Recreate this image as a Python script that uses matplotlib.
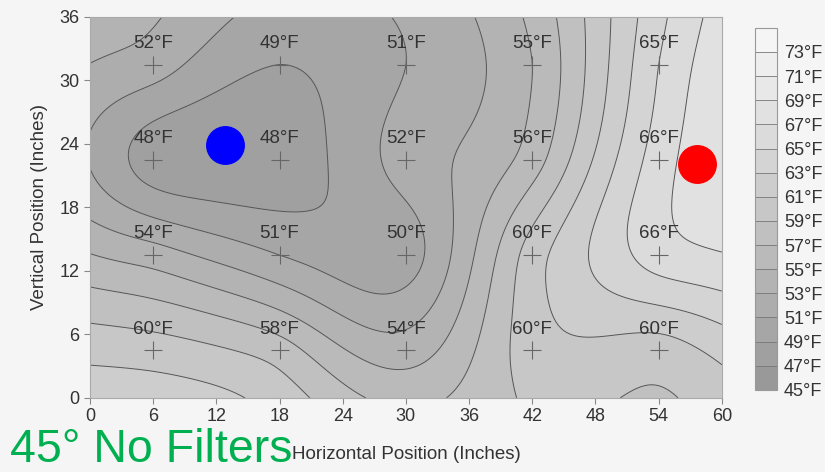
import numpy as np
import matplotlib.pyplot as plt
from matplotlib.colors import ListedColormap, BoundaryNorm

# Sensor grid (inches) and readings (deg F)
sensor_x = [6, 18, 30, 42, 54]
sensor_y = [4.5, 13.5, 22.5, 31.5]
temps = [
    [60, 58, 54, 60, 60],   # y = 4.5
    [54, 51, 50, 60, 66],   # y = 13.5
    [48, 48, 52, 56, 66],   # y = 22.5
    [52, 49, 51, 55, 65],   # y = 31.5
]
levels = list(range(45, 77, 2))
tick_vals = list(range(45, 75, 2))

# Fan / heater positions
cold_xy = (12.8, 23.9)
hot_xy = (57.6, 22.1)

# Thin-plate spline through the sensor readings
sx, sy = np.meshgrid(sensor_x, sensor_y)
px, py, pv = sx.ravel(), sy.ravel(), np.array(temps, float).ravel()


def tps_kernel(r):
    with np.errstate(divide='ignore', invalid='ignore'):
        k = r**2 * np.log(r)
    return np.nan_to_num(k)


n = len(pv)
d = np.hypot(px[:, None] - px[None, :], py[:, None] - py[None, :])
A = np.zeros((n + 3, n + 3))
A[:n, :n] = tps_kernel(d)
P = np.column_stack([np.ones(n), px, py])
A[:n, n:] = P
A[n:, :n] = P.T
coef = np.linalg.solve(A, np.concatenate([pv, np.zeros(3)]))

gx, gy = np.meshgrid(np.linspace(0, 60, 241), np.linspace(0, 36, 145))
r = np.hypot(gx[..., None] - px, gy[..., None] - py)
field = tps_kernel(r) @ coef[:n] + coef[n] + coef[n + 1] * gx + coef[n + 2] * gy
field = np.clip(field, levels[0] + 0.01, levels[-1] - 0.01)

grays = np.linspace(0.60, 0.96, len(levels) - 1)
cmap = ListedColormap([(g, g, g) for g in grays])
norm = BoundaryNorm(levels, cmap.N)

plt.rcParams['font.family'] = ['Liberation Sans', 'DejaVu Sans']
fig = plt.figure(figsize=(8.25, 4.72), dpi=100, facecolor='#f5f5f5')
ax = fig.add_axes([0.109, 0.157, 0.766, 0.807])

cf = ax.contourf(gx, gy, field, levels=levels, cmap=cmap, norm=norm)
ax.contour(gx, gy, field, levels=levels, colors='#555555', linewidths=0.7)

# Sensor crosses and readings
for j, yv in enumerate(sensor_y):
    for i, xv in enumerate(sensor_x):
        ax.plot(xv, yv, marker='+', color='#666666', markersize=13, mew=0.8)
        ax.text(xv, yv + 1.2, f'{temps[j][i]}°F', ha='center', va='bottom',
                fontsize=13.5, color='#333333')

ax.plot(*cold_xy, 'o', color='#0000ff', markersize=27)
ax.plot(*hot_xy, 'o', color='#ff0000', markersize=27)

ax.set_xlim(0, 60)
ax.set_ylim(0, 36)
ax.set_xticks(range(0, 61, 6))
ax.set_yticks(range(0, 37, 6))
ax.tick_params(colors='#888888', labelcolor='#333333', labelsize=13, length=4)
for s in ax.spines.values():
    s.set_color('#aaaaaa')
ax.set_xlabel('Horizontal Position (Inches)', fontsize=13.5, color='#333333', labelpad=15)
ax.set_ylabel('Vertical Position (Inches)', fontsize=13.5, color='#333333', labelpad=8)

cax = fig.add_axes([0.915, 0.174, 0.027, 0.767])
cb = fig.colorbar(cf, cax=cax, ticks=tick_vals)
cb.set_ticklabels([f'{t}°F' for t in tick_vals])
cb.minorticks_off()
cb.ax.tick_params(which='both', length=0, labelsize=13, labelcolor='#333333', pad=5)
cb.outline.set_edgecolor('#999999')
for lv in levels[1:-1]:
    cax.axhline(lv, color='#777777', lw=0.6)

fig.text(0.012, 0.021, '45° No Filters', fontsize=33.5, color='#00b050',
         ha='left', va='baseline')

fig.savefig('out.png', dpi=100, facecolor=fig.get_facecolor())
